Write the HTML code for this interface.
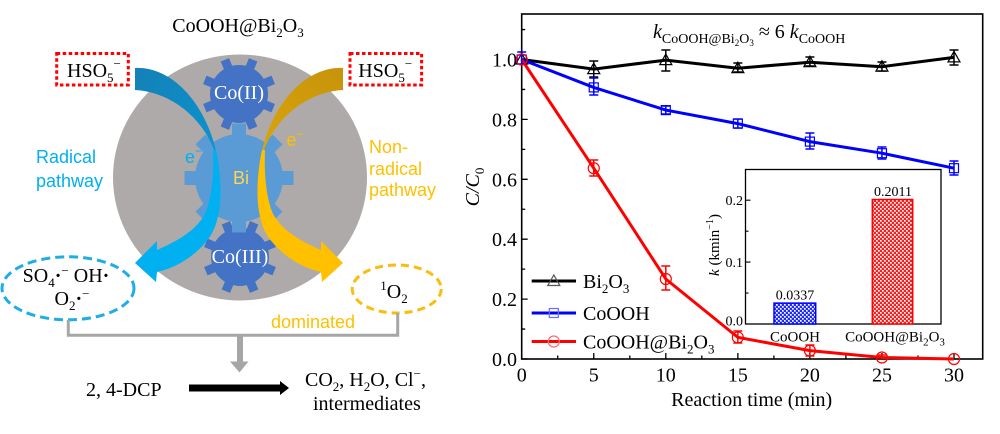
<!DOCTYPE html>
<html><head><meta charset="utf-8">
<style>
html,body{margin:0;padding:0;background:#fff;}
svg{display:block;}
.s{font-family:"Liberation Serif","DejaVu Serif",serif;}
.a{font-family:"Liberation Sans","DejaVu Sans",sans-serif;}
</style></head><body>
<svg width="1000" height="434" viewBox="0 0 1000 434" xmlns="http://www.w3.org/2000/svg">
<defs>
<linearGradient id="gbt" gradientUnits="userSpaceOnUse" x1="135" y1="79" x2="218" y2="165">
<stop offset="0" stop-color="#1482b8"/><stop offset="1" stop-color="#0a95d2"/></linearGradient>
<linearGradient id="got" gradientUnits="userSpaceOnUse" x1="135" y1="79" x2="218" y2="165">
<stop offset="0" stop-color="#c8940a"/><stop offset="1" stop-color="#dca60a"/></linearGradient>
<pattern id="pb" width="4" height="4" patternUnits="userSpaceOnUse"><rect width="4" height="4" fill="#1f2cf5"/><rect width="1.7" height="1.7" fill="#fff"/><rect x="2" y="2" width="1.7" height="1.7" fill="#fff"/></pattern>
<pattern id="pr" width="4" height="4" patternUnits="userSpaceOnUse"><rect width="4" height="4" fill="#f52020"/><rect width="1.7" height="1.7" fill="#fff"/><rect x="2" y="2" width="1.7" height="1.7" fill="#fff"/></pattern>
</defs>

<!-- ============ LEFT DIAGRAM ============ -->
<text class="s" x="238" y="32" font-size="20" text-anchor="middle">CoOOH@Bi<tspan font-size="13" dy="5">2</tspan><tspan dy="-5">O</tspan><tspan font-size="13" dy="5">3</tspan></text>

<ellipse cx="240" cy="177.5" rx="127" ry="123" fill="#aeaaaa"/>

<!-- Co(II) gear -->
<g transform="translate(239,94)" fill="#4472c4">
<rect x="-4.5" y="-37" width="9" height="13" transform="rotate(22.5)"/>
<rect x="-4.5" y="-37" width="9" height="13" transform="rotate(67.5)"/>
<rect x="-4.5" y="-37" width="9" height="13" transform="rotate(112.5)"/>
<rect x="-4.5" y="-37" width="9" height="13" transform="rotate(157.5)"/>
<rect x="-4.5" y="-37" width="9" height="13" transform="rotate(202.5)"/>
<rect x="-4.5" y="-37" width="9" height="13" transform="rotate(247.5)"/>
<rect x="-4.5" y="-37" width="9" height="13" transform="rotate(292.5)"/>
<rect x="-4.5" y="-37" width="9" height="13" transform="rotate(337.5)"/>
<circle r="29"/>
</g>
<!-- Co(III) gear -->
<g transform="translate(240,257)" fill="#4472c4">
<rect x="-4.5" y="-37" width="9" height="13" transform="rotate(22.5)"/>
<rect x="-4.5" y="-37" width="9" height="13" transform="rotate(67.5)"/>
<rect x="-4.5" y="-37" width="9" height="13" transform="rotate(112.5)"/>
<rect x="-4.5" y="-37" width="9" height="13" transform="rotate(157.5)"/>
<rect x="-4.5" y="-37" width="9" height="13" transform="rotate(202.5)"/>
<rect x="-4.5" y="-37" width="9" height="13" transform="rotate(247.5)"/>
<rect x="-4.5" y="-37" width="9" height="13" transform="rotate(292.5)"/>
<rect x="-4.5" y="-37" width="9" height="13" transform="rotate(337.5)"/>
<circle r="29"/>
</g>
<!-- Bi gear -->
<g transform="translate(239,178)" fill="#5b9bd5">
<rect x="-7" y="-54.5" width="14" height="15" transform="rotate(0)"/>
<rect x="-7" y="-54.5" width="14" height="15" transform="rotate(45)"/>
<rect x="-7" y="-54.5" width="14" height="15" transform="rotate(90)"/>
<rect x="-7" y="-54.5" width="14" height="15" transform="rotate(135)"/>
<rect x="-7" y="-54.5" width="14" height="15" transform="rotate(180)"/>
<rect x="-7" y="-54.5" width="14" height="15" transform="rotate(225)"/>
<rect x="-7" y="-54.5" width="14" height="15" transform="rotate(270)"/>
<rect x="-7" y="-54.5" width="14" height="15" transform="rotate(315)"/>
<circle r="44"/>
</g>
<text class="s" x="239" y="99" font-size="20" fill="#fff" text-anchor="middle">Co(II)</text>
<text class="s" x="240" y="263" font-size="20" fill="#fff" text-anchor="middle">Co(III)</text>
<text class="a" x="241" y="184" font-size="18" fill="#ffd54f" text-anchor="middle">Bi</text>

<!-- blue arrow -->
<path d="M135,68 C175,66 212,110 219,168 C212,125 175,92 135,90 Z" fill="url(#gbt)"/>
<path d="M216,150 C224,190 222,225 205,243 C192,258 175,268 157,272 L156,282 L135,263 L157,241 L157,250 C175,242 195,232 205,214 C212,197 214,175 213,150 Z" fill="#00b0f0"/>
<!-- orange arrow (mirrored) -->
<g transform="translate(478,0) scale(-1,1)">
<path d="M135,68 C175,66 212,110 219,168 C212,125 175,92 135,90 Z" fill="url(#got)"/>
<path d="M216,150 C224,190 222,225 205,243 C192,258 175,268 157,272 L156,282 L135,263 L157,241 L157,250 C175,242 195,232 205,214 C212,197 214,175 213,150 Z" fill="#ffc000"/>
</g>

<text class="a" x="185" y="163" font-size="18" fill="#00b0f0">e<tspan font-size="12" dy="-8">−</tspan></text>
<text class="a" x="286.5" y="146" font-size="18" fill="#ffc000">e<tspan font-size="12" dy="-8">−</tspan></text>

<!-- HSO5 boxes -->
<rect x="56.7" y="53.5" width="71.6" height="31.5" fill="none" stroke="#ff0000" stroke-width="3" stroke-dasharray="3.5 2.5"/>
<text class="s" x="67" y="77" font-size="20">HSO<tspan font-size="13" dy="5">5</tspan><tspan font-size="13" dy="-14">−</tspan></text>
<rect x="350" y="53.5" width="71.6" height="31.5" fill="none" stroke="#ff0000" stroke-width="3" stroke-dasharray="3.5 2.5"/>
<text class="s" x="358.3" y="77" font-size="20">HSO<tspan font-size="13" dy="5">5</tspan><tspan font-size="13" dy="-14">−</tspan></text>

<text class="a" x="36" y="163" font-size="18" fill="#00b0f0">Radical</text>
<text class="a" x="36" y="187" font-size="18" fill="#00b0f0">pathway</text>
<text class="a" x="369" y="153" font-size="18" fill="#ffc000">Non-</text>
<text class="a" x="369" y="175" font-size="18" fill="#ffc000">radical</text>
<text class="a" x="369" y="196" font-size="18" fill="#ffc000">pathway</text>

<!-- ellipses -->
<ellipse cx="68" cy="288.3" rx="66" ry="31.5" fill="none" stroke="#1fade6" stroke-width="3" stroke-dasharray="9 5"/>
<ellipse cx="396.7" cy="289" rx="44.5" ry="24" fill="none" stroke="#f9bd10" stroke-width="3" stroke-dasharray="8 5"/>
<text class="s" x="66" y="282" font-size="20" text-anchor="middle">SO<tspan font-size="13" dy="5">4</tspan><tspan dy="-5" font-weight="bold">·</tspan><tspan font-size="13" dy="-7">−</tspan><tspan dy="7"> OH</tspan><tspan font-weight="bold">·</tspan></text>
<text class="s" x="72" y="305" font-size="20" text-anchor="middle">O<tspan font-size="13" dy="5">2</tspan><tspan dy="-5" font-weight="bold">·</tspan><tspan font-size="13" dy="-7">−</tspan></text>
<text class="s" x="394" y="298" font-size="20" text-anchor="middle"><tspan font-size="13" dy="-8">1</tspan><tspan dy="8">O</tspan><tspan font-size="13" dy="5">2</tspan></text>

<path d="M68.3,320 V335.3 H397.7 V313" fill="none" stroke="#a6a6a6" stroke-width="3"/>
<rect x="237" y="335" width="6" height="27" fill="#a6a6a6"/>
<polygon points="230,361.5 248.5,361.5 239.5,372.5" fill="#a6a6a6"/>
<text class="a" x="271" y="328" font-size="18" fill="#ffc000">dominated</text>

<text class="s" x="86" y="396" font-size="20">2, 4-DCP</text>
<rect x="189" y="384.5" width="92" height="7" fill="#000"/>
<polygon points="280,381 289,388 280,395" fill="#000"/>
<text class="s" x="305" y="386" font-size="20">CO<tspan font-size="13" dy="5">2</tspan><tspan dy="-5">, H</tspan><tspan font-size="13" dy="5">2</tspan><tspan dy="-5">O, Cl</tspan><tspan font-size="13" dy="-8">−</tspan><tspan dy="8">,</tspan></text>
<text class="s" x="313" y="410" font-size="20">intermediates</text>

<!-- ============ CHART ============ -->
<g fill="none" stroke="#000" stroke-width="1.3">
<path d="M521.7,359 h6 M521.7,299.1 h6 M521.7,239.2 h6 M521.7,179.3 h6 M521.7,119.4 h6 M521.7,59.5 h6"/>
<path d="M521.7,329.05 h3.5 M521.7,269.15 h3.5 M521.7,209.25 h3.5 M521.7,149.35 h3.5 M521.7,89.45 h3.5 M521.7,29.55 h3.5"/>
<path d="M521.7,359 v-6 M593.75,359 v-6 M665.8,359 v-6 M737.85,359 v-6 M809.9,359 v-6 M881.95,359 v-6 M954,359 v-6"/>
<path d="M557.7,359 v-3.5 M629.8,359 v-3.5 M701.8,359 v-3.5 M773.9,359 v-3.5 M845.9,359 v-3.5 M918,359 v-3.5"/>
</g>
<rect x="521.7" y="14" width="461" height="345" fill="none" stroke="#000" stroke-width="1.6"/>

<g class="s" font-size="20" text-anchor="end">
<text x="517" y="366">0.0</text>
<text x="517" y="306.1">0.2</text>
<text x="517" y="246.2">0.4</text>
<text x="517" y="186.3">0.6</text>
<text x="517" y="126.4">0.8</text>
<text x="517" y="66.5">1.0</text>
</g>
<g class="s" font-size="20" text-anchor="middle">
<text x="521.7" y="381.5">0</text>
<text x="593.75" y="381.5">5</text>
<text x="665.8" y="381.5">10</text>
<text x="737.85" y="381.5">15</text>
<text x="809.9" y="381.5">20</text>
<text x="881.95" y="381.5">25</text>
<text x="954" y="381.5">30</text>
<text x="751.7" y="406">Reaction time (min)</text>
</g>
<text class="s" font-size="20" text-anchor="middle" transform="translate(479,187) rotate(-90)"><tspan font-style="italic">C</tspan><tspan font-style="italic">/C</tspan><tspan font-size="13" dy="5">0</tspan></text>

<text class="s" x="653" y="38" font-size="20"><tspan font-style="italic">k</tspan><tspan font-size="14" dy="5">CoOOH@Bi</tspan><tspan font-size="9" dy="3">2</tspan><tspan font-size="14" dy="-3">O</tspan><tspan font-size="9" dy="3">3</tspan><tspan dy="-8"> ≈ 6 </tspan><tspan font-style="italic">k</tspan><tspan font-size="14" dy="5">CoOOH</tspan></text>

<!-- series lines -->
<polyline points="521.7,59.5 593.75,69.1 665.8,60.1 737.85,68.2 809.9,62.2 881.95,66.7 954,57.4" fill="none" stroke="#000" stroke-width="3"/>
<polyline points="521.7,59.5 593.75,87.4 665.8,110.1 737.85,123.6 809.9,141.6 881.95,153.2 954,168.2" fill="none" stroke="#0000ff" stroke-width="3"/>
<polyline points="521.7,59.5 593.75,168.2 665.8,279 737.85,337.4 809.9,350.6 881.95,357.5 954,359" fill="none" stroke="#ff0000" stroke-width="3"/>

<!-- error bars -->
<path fill="none" stroke="#000" stroke-width="1.5" d="M593.75,61V77M589.25,61h9M589.25,77h9 M665.8,50V71M661.3,50h9M661.3,71h9 M737.85,63V72M733.35,63h9M733.35,72h9 M809.9,57V66M805.4,57h9M805.4,66h9 M881.95,62V71M877.45,62h9M877.45,71h9 M954,50V65M949.5,50h9M949.5,65h9"/>
<path fill="none" stroke="#0000ff" stroke-width="1.5" d="M521.7,52V66M517.2,52h9 M593.75,78V95M589.25,78h9M589.25,95h9 M665.8,106V114M661.3,106h9M661.3,114h9 M737.85,119V128M733.35,119h9M733.35,128h9 M809.9,133V149M805.4,133h9M805.4,149h9 M881.95,147V159M877.45,147h9M877.45,159h9 M954,161V175M949.5,161h9M949.5,175h9"/>
<path fill="none" stroke="#ff0000" stroke-width="1.5" d="M593.75,160V176M589.25,160h9M589.25,176h9 M665.8,266V290M661.3,266h9M661.3,290h9 M737.85,331V343M733.35,331h9M733.35,343h9 M809.9,345V356M805.4,345h9M805.4,356h9 M881.95,355V359M877.45,355h9"/>

<!-- markers -->
<g fill="none" stroke="#000" stroke-width="1.2">
<polygon points="521.7,53.5 515.7,64 527.7,64"/>
<polygon points="593.75,63.1 587.75,73.6 599.75,73.6"/>
<polygon points="665.8,54.1 659.8,64.6 671.8,64.6"/>
<polygon points="737.85,62.2 731.85,72.7 743.85,72.7"/>
<polygon points="809.9,56.2 803.9,66.7 815.9,66.7"/>
<polygon points="881.95,60.7 875.95,71.2 887.95,71.2"/>
<polygon points="954,51.4 948,61.9 960,61.9"/>
</g>
<g fill="none" stroke="#0000ff" stroke-width="1.2">
<rect x="517.2" y="55" width="9" height="9"/>
<rect x="589.25" y="82.9" width="9" height="9"/>
<rect x="661.3" y="105.6" width="9" height="9"/>
<rect x="733.35" y="119.1" width="9" height="9"/>
<rect x="805.4" y="137.1" width="9" height="9"/>
<rect x="877.45" y="148.7" width="9" height="9"/>
<rect x="949.5" y="163.7" width="9" height="9"/>
</g>
<g fill="none" stroke="#ff0000" stroke-width="1.2">
<circle cx="521.7" cy="59.5" r="5.5"/>
<circle cx="593.75" cy="168.2" r="5.5"/>
<circle cx="665.8" cy="279" r="5.5"/>
<circle cx="737.85" cy="337.4" r="5.5"/>
<circle cx="809.9" cy="350.6" r="5.5"/>
<circle cx="881.95" cy="357.5" r="5.5"/>
<circle cx="954" cy="359" r="5.5"/>
</g>

<!-- legend -->
<line x1="531.7" y1="281" x2="576" y2="281" stroke="#000" stroke-width="3"/>
<polygon points="553.8,275 547.8,285.5 559.8,285.5" fill="none" stroke="#555" stroke-width="1.2"/>
<line x1="531.7" y1="313" x2="576" y2="313" stroke="#0000ff" stroke-width="3"/>
<rect x="549.3" y="308.5" width="9" height="9" fill="none" stroke="#6a6aff" stroke-width="1.2"/>
<line x1="531.7" y1="341.5" x2="576" y2="341.5" stroke="#ff0000" stroke-width="3"/>
<circle cx="553.8" cy="341.5" r="5.5" fill="none" stroke="#ff6a6a" stroke-width="1.2"/>
<g class="s" font-size="20">
<text x="583" y="288">Bi<tspan font-size="13" dy="5">2</tspan><tspan dy="-5">O</tspan><tspan font-size="13" dy="5">3</tspan></text>
<text x="583" y="320">CoOOH</text>
<text x="583" y="348.5">CoOOH@Bi<tspan font-size="13" dy="5">2</tspan><tspan dy="-5">O</tspan><tspan font-size="13" dy="5">3</tspan></text>
</g>

<!-- inset -->
<rect x="745.5" y="169.5" width="195.5" height="154.5" fill="#fff" stroke="#000" stroke-width="1.3"/>
<path fill="none" stroke="#000" stroke-width="1.1" d="M745.5,200.2 h5 M745.5,262.1 h5 M745.5,231.15 h3 M745.5,293.05 h3"/>
<rect x="774" y="303.1" width="41.7" height="20.9" fill="url(#pb)" stroke="#0000ff" stroke-width="1.5"/>
<rect x="872.3" y="199.5" width="40.4" height="124.5" fill="url(#pr)" stroke="#ff0000" stroke-width="1.5"/>
<g class="s" font-size="14">
<text x="743" y="205" text-anchor="end">0.2</text>
<text x="743" y="267" text-anchor="end">0.1</text>
<text x="743" y="325.5" text-anchor="end">0.0</text>
<text x="795" y="299.5" text-anchor="middle">0.0337</text>
<text x="893" y="196" text-anchor="middle">0.2011</text>
</g>
<g class="s" font-size="15" text-anchor="middle">
<text x="795" y="341.5">CoOOH</text>
<text x="895" y="341.5">CoOOH@Bi<tspan font-size="11" dy="4">2</tspan><tspan dy="-4">O</tspan><tspan font-size="11" dy="4">3</tspan></text>
</g>
<text class="s" font-size="15" text-anchor="middle" transform="translate(719,245) rotate(-90)"><tspan font-style="italic">k</tspan> (kmin<tspan font-size="10" dy="-6">−1</tspan><tspan dy="6">)</tspan></text>
</svg>
</body></html>
